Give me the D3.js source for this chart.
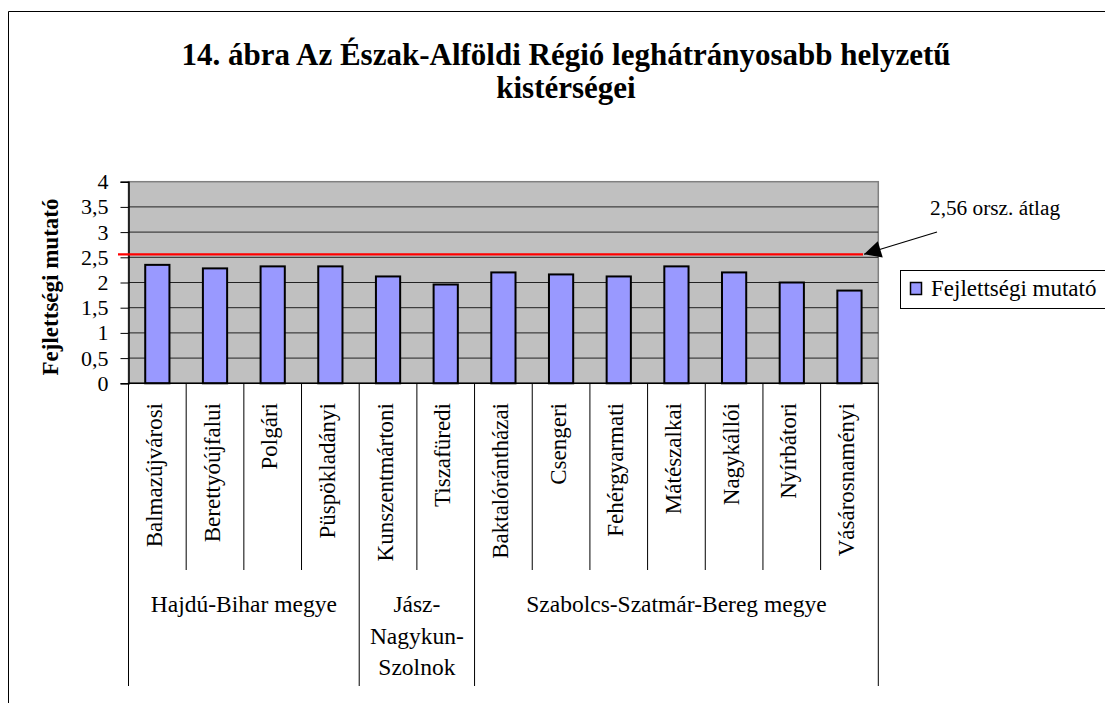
<!DOCTYPE html>
<html>
<head>
<meta charset="utf-8">
<script src="https://cdn.jsdelivr.net/npm/d3@7"></script>
<style>
body{margin:0;background:#fff;}
text{font-family:"Liberation Serif","Times New Roman",serif;fill:#000;}
</style>
</head>
<body>
<div id="chart_area"></div>
<script>
var categories=["Balmazújvárosi","Berettyóújfalui","Polgári","Püspökladányi",
				"Kunszentmártoni","Tiszafüredi",
				"Baktalórántházai","Csengeri","Fehérgyarmati","Mátészalkai","Nagykállói","Nyírbátori","Vásárosnaményi"];
var values=[2.35,2.28,2.32,2.32,2.12,1.96,2.20,2.16,2.12,2.32,2.20,2.00,1.84];
var groups=[["Hajdú-Bihar megye"],["Jász-","Nagykun-","Szolnok"],["Szabolcs-Szatmár-Bereg megye"]];
var group_sizes=[4,2,7];
var y_ticks=[0,0.5,1,1.5,2,2.5,3,3.5,4];
var y_tick_labels=["0","0,5","1","1,5","2","2,5","3","3,5","4"];
var avg_value=2.56;
var avg_label="2,56 orsz. átlag";
var series_name="Fejlettségi mutató";
var title_lines=["14. ábra Az Észak-Alföldi Régió leghátrányosabb helyzetű","kistérségei"];

var area=d3.select("#chart_area")
			.append("svg")
			.attr("width",1105)
			.attr("height",703);

var plot_left=128.5, plot_right=878.3, plot_top=181.7, plot_bottom=383.3;
var bar_color="#9999FF";

var x=d3.scaleBand()
		.domain(categories)
		.range([plot_left,plot_right])
		.padding(0);
var y=d3.scaleLinear()
		.domain([0,4])
		.range([plot_bottom,plot_top]);

// outer frame (only top and left show)
area.append("path")
	.attr("d","M8.5,703 L8.5,11.5 L1105,11.5")
	.attr("fill","none")
	.attr("stroke","#000")
	.attr("stroke-width",1);

// title
area.selectAll(".title")
	.data(title_lines)
	.enter()
	.append("text")
	.attr("class","title")
	.attr("x",566)
	.attr("y",function(d,i){return 65+i*33;})
	.attr("text-anchor","middle")
	.attr("font-size",31)
	.attr("font-weight","bold")
	.text(function(d){return d;});

// plot background
area.append("rect")
	.attr("x",plot_left)
	.attr("y",plot_top)
	.attr("width",plot_right-plot_left)
	.attr("height",plot_bottom-plot_top)
	.attr("fill","#C0C0C0")
	.attr("stroke","#808080")
	.attr("stroke-width",1.5);

// gridlines
area.selectAll(".grid")
	.data(y_ticks.filter(function(d){return d>0&&d<4;}))
	.enter()
	.append("line")
	.attr("class","grid")
	.attr("x1",plot_left)
	.attr("x2",plot_right)
	.attr("y1",function(d){return y(d);})
	.attr("y2",function(d){return y(d);})
	.attr("stroke","#222")
	.attr("stroke-width",1);

// bars
var bw=x.bandwidth()*0.42;
area.selectAll(".bar")
	.data(values)
	.enter()
	.append("rect")
	.attr("class","bar")
	.attr("x",function(d,i){return x(categories[i])+(x.bandwidth()-bw)/2;})
	.attr("y",function(d){return y(d);})
	.attr("width",bw)
	.attr("height",function(d){return y(0)-y(d);})
	.attr("fill",bar_color)
	.attr("stroke","#000")
	.attr("stroke-width",2);

// y axis
var y_axis=d3.axisLeft(y)
			.tickValues(y_ticks)
			.tickSize(8)
			.tickFormat(function(d,i){return y_tick_labels[i];});
var ya=area.append("g")
			.attr("transform","translate("+plot_left+",0)")
			.call(y_axis);
ya.select(".domain").attr("stroke","#000").attr("stroke-width",1.5);
ya.selectAll(".tick line").attr("stroke","#000");
ya.selectAll(".tick text")
	.attr("x",-20)
	.attr("font-size",22)
	.attr("font-family","Liberation Serif, Times New Roman, serif")
	.attr("fill","#000");

// y axis title
area.append("text")
	.attr("transform","translate(58,287) rotate(-90)")
	.attr("text-anchor","middle")
	.attr("font-size",23)
	.attr("font-weight","bold")
	.text("Fejlettségi mutató");

// x axis line
area.append("line")
	.attr("x1",plot_left)
	.attr("x2",plot_right)
	.attr("y1",plot_bottom)
	.attr("y2",plot_bottom)
	.attr("stroke","#000")
	.attr("stroke-width",1.5);

// category separators
var group_ends=[0];
group_sizes.forEach(function(n,i){group_ends.push(group_ends[i]+n);});
area.selectAll(".sep")
	.data(d3.range(categories.length+1))
	.enter()
	.append("line")
	.attr("class","sep")
	.attr("x1",function(i){return plot_left+i*x.step();})
	.attr("x2",function(i){return plot_left+i*x.step();})
	.attr("y1",plot_bottom)
	.attr("y2",function(i){return group_ends.indexOf(i)>=0?686:570;})
	.attr("stroke","#000")
	.attr("stroke-width",1);

// category labels
area.selectAll(".cat")
	.data(categories)
	.enter()
	.append("text")
	.attr("class","cat")
	.attr("transform",function(d){return "translate("+(x(d)+x.bandwidth()/2)+",403) rotate(-90)";})
	.attr("text-anchor","end")
	.attr("dy","0.2em")
	.attr("font-size",23)
	.text(function(d){return d;});

// group labels
groups.forEach(function(lines,g){
	var cx=plot_left+(group_ends[g]+group_ends[g+1])/2*x.step();
	area.selectAll(".grp"+g)
		.data(lines)
		.enter()
		.append("text")
		.attr("x",cx)
		.attr("y",function(d,i){return 612+i*31.5;})
		.attr("text-anchor","middle")
		.attr("font-size",23.5)
		.text(function(d){return d;});
});

// average line
area.append("line")
	.attr("x1",118)
	.attr("x2",863)
	.attr("y1",y(avg_value))
	.attr("y2",y(avg_value))
	.attr("stroke","#FF0000")
	.attr("stroke-width",2.2);

// arrow
area.append("defs")
	.append("marker")
	.attr("id","head")
	.attr("viewBox","0 0 10 10")
	.attr("refX",10)
	.attr("refY",5)
	.attr("markerWidth",21)
	.attr("markerHeight",17)
	.attr("markerUnits","userSpaceOnUse")
	.attr("orient","auto")
	.append("path")
	.attr("d","M0,0 L10,5 L0,10 Z")
	.attr("fill","#000");
area.append("line")
	.attr("x1",937)
	.attr("y1",232)
	.attr("x2",864)
	.attr("y2",y(avg_value))
	.attr("stroke","#000")
	.attr("stroke-width",1.2)
	.attr("marker-end","url(#head)");
area.append("text")
	.attr("x",930)
	.attr("y",215)
	.attr("font-size",21.3)
	.text(avg_label);

// legend
area.append("rect")
	.attr("x",900.5)
	.attr("y",270.5)
	.attr("width",220)
	.attr("height",38)
	.attr("fill","#fff")
	.attr("stroke","#000")
	.attr("stroke-width",1);
area.append("rect")
	.attr("x",910.5)
	.attr("y",282.5)
	.attr("width",11)
	.attr("height",12)
	.attr("fill",bar_color)
	.attr("stroke","#000")
	.attr("stroke-width",1.5);
area.append("text")
	.attr("x",931)
	.attr("y",296)
	.attr("font-size",23)
	.text(series_name);
</script>
</body>
</html>
